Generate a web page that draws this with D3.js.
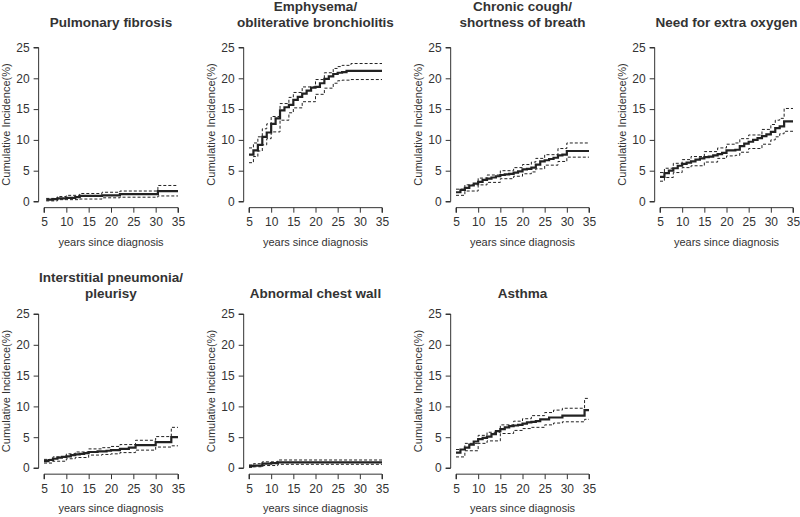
<!DOCTYPE html>
<html>
<head>
<meta charset="utf-8">
<script src="https://cdn.jsdelivr.net/npm/d3@7"></script>
<style>
  body { margin: 0; background: #fff; }
  svg text { font-family: "Liberation Sans", Arial, sans-serif; fill: #333; }
</style>
</head>
<body>
<div id="chart"></div>
<script>
// x ticks / y ticks shared by every panel
const xTicks = [5, 10, 15, 20, 25, 30, 35];
const yTicks = [0, 5, 10, 15, 20, 25];

// Pulmonary fibrosis
const pfT = [5.5, 7, 8, 10, 12, 13, 18, 22, 30.5, 35];
const pfEst = [0.3, 0.4, 0.5, 0.6, 0.7, 0.9, 1.0, 1.2, 1.7, 1.7];
const pfCiT = [5.5, 8, 10, 13, 18, 22, 30.5, 35];
const pfLo = [0.1, 0.3, 0.3, 0.4, 0.6, 0.7, 0.9, 0.9];
const pfHi = [0.5, 0.8, 1.0, 1.3, 1.5, 1.7, 2.6, 2.6];

// Emphysema / obliterative bronchiolitis
const emT = [5, 6, 7, 8, 9, 10, 11, 12, 13, 14, 15, 16, 17, 18, 19, 20, 21, 22, 23, 24, 25, 26, 27, 35];
const emEst = [7.6, 8.3, 9.2, 10.5, 11.2, 12.6, 13.5, 14.8, 15.3, 15.7, 16.5, 17.0, 17.5, 18.0, 18.5, 18.6, 19.2, 19.9, 20.3, 20.7, 20.9, 21.0, 21.2, 21.2];
const emCiT = [5, 6, 7, 8, 9, 10, 12, 14, 15, 17, 20, 22, 24, 25, 26, 28, 35];
const emLo = [6.3, 7.3, 8.2, 9.2, 10.2, 11.3, 13.2, 14.4, 15.2, 16.2, 17.4, 18.4, 19.2, 19.6, 19.7, 19.8, 19.8];
const emHi = [8.7, 9.5, 10.5, 11.8, 12.6, 13.8, 15.9, 16.9, 17.7, 18.6, 19.8, 20.9, 21.6, 21.9, 22.1, 22.4, 22.4];

// Chronic cough / shortness of breath
const ccT = [5, 6, 7, 8, 9, 10, 11, 12, 13, 14, 15, 16, 17, 18, 19, 20, 21, 22, 23, 24, 25, 26, 27, 28, 29, 30, 35];
const ccEst = [1.5, 1.9, 2.2, 2.6, 2.9, 3.2, 3.5, 3.7, 3.9, 4.1, 4.3, 4.4, 4.5, 4.7, 4.9, 5.2, 5.3, 5.5, 6.0, 6.5, 6.7, 6.9, 7.1, 7.5, 7.6, 8.2, 8.2];
const ccCiT = [5, 7, 10, 12, 15, 18, 20, 22, 23, 25, 28, 30, 35];
const ccLo = [1.0, 1.7, 2.7, 3.1, 3.7, 4.1, 4.5, 4.8, 5.3, 5.9, 6.5, 7.2, 7.2];
const ccHi = [2.0, 2.7, 3.8, 4.3, 5.0, 5.5, 6.0, 6.4, 7.0, 7.6, 8.6, 9.5, 9.5];

// Need for extra oxygen
const oxT = [5, 6, 7, 8, 9, 10, 11, 12, 13, 14, 15, 16, 17, 18, 19, 20, 22, 23, 24, 25, 26, 27, 28, 29, 30, 31, 32, 33, 35];
const oxEst = [4.0, 4.6, 5.0, 5.4, 5.8, 6.1, 6.3, 6.5, 6.8, 7.0, 7.2, 7.3, 7.5, 7.7, 7.9, 8.3, 8.4, 9.0, 9.4, 9.7, 10.0, 10.3, 10.6, 10.9, 11.3, 11.9, 12.2, 13.0, 13.0];
const oxCiT = [5, 6, 8, 10, 12, 15, 18, 20, 22, 23, 25, 28, 30, 31, 32, 33, 35];
const oxLo = [3.3, 3.9, 4.7, 5.5, 5.8, 6.4, 7.0, 7.4, 7.5, 8.0, 8.6, 9.3, 10.0, 10.5, 11.0, 11.4, 11.4];
const oxHi = [4.7, 5.4, 6.2, 6.8, 7.3, 8.1, 8.7, 9.3, 9.5, 10.2, 10.8, 11.7, 12.5, 13.2, 13.5, 15.1, 15.1];

// Interstitial pneumonia / pleurisy
const ipT = [5, 6, 7, 8, 9, 10, 11, 12, 13, 14, 15, 17, 19, 20, 22, 24, 25.5, 30, 33.5, 35];
const ipEst = [1.1, 1.3, 1.5, 1.7, 1.8, 1.9, 2.1, 2.2, 2.3, 2.4, 2.6, 2.7, 2.8, 2.9, 3.1, 3.3, 3.7, 4.2, 5.0, 5.0];
const ipCiT = [5, 7, 10, 12, 15, 18, 20, 22, 25.5, 30, 33.5, 35];
const ipLo = [0.8, 1.1, 1.5, 1.7, 2.1, 2.2, 2.3, 2.5, 2.9, 3.4, 3.6, 3.6];
const ipHi = [1.4, 1.8, 2.3, 2.6, 3.1, 3.3, 3.5, 3.8, 4.5, 5.1, 6.6, 6.6];

// Abnormal chest wall
const cwT = [5, 6, 8, 10, 11.5, 35];
const cwEst = [0.3, 0.4, 0.7, 0.8, 0.9, 0.9];
const cwCiT = [5, 6, 8, 11.5, 35];
const cwLo = [0.1, 0.2, 0.4, 0.6, 0.6];
const cwHi = [0.5, 0.7, 1.0, 1.3, 1.3];

// Asthma
const asT = [5, 6, 7, 8, 9, 10, 11, 12, 13, 14, 15, 16, 17, 18, 19, 20, 21, 22, 23, 24, 26, 29, 34, 35];
const asEst = [2.5, 3.0, 3.3, 3.8, 4.3, 4.7, 4.9, 5.1, 5.5, 6.0, 6.3, 6.6, 6.8, 6.9, 7.0, 7.2, 7.4, 7.5, 7.6, 7.9, 8.2, 8.5, 9.4, 9.4];
const asCiT = [5, 7, 10, 12, 15, 18, 20, 22, 25, 27, 29, 34, 35];
const asLo = [1.8, 2.8, 4.0, 4.4, 5.6, 6.1, 6.4, 6.6, 7.0, 7.3, 7.5, 7.9, 7.9];
const asHi = [3.0, 4.0, 5.3, 5.8, 7.0, 7.6, 8.0, 8.5, 9.0, 9.4, 9.7, 11.3, 11.3];

const panels = [
  { title: ["Pulmonary fibrosis"], t: pfT, est: pfEst, ciT: pfCiT, lo: pfLo, hi: pfHi },
  { title: ["Emphysema/", "obliterative bronchiolitis"], t: emT, est: emEst, ciT: emCiT, lo: emLo, hi: emHi },
  { title: ["Chronic cough/", "shortness of breath"], t: ccT, est: ccEst, ciT: ccCiT, lo: ccLo, hi: ccHi },
  { title: ["Need for extra oxygen"], t: oxT, est: oxEst, ciT: oxCiT, lo: oxLo, hi: oxHi },
  { title: ["Interstitial pneumonia/", "pleurisy"], t: ipT, est: ipEst, ciT: ipCiT, lo: ipLo, hi: ipHi },
  { title: ["Abnormal chest wall"], t: cwT, est: cwEst, ciT: cwCiT, lo: cwLo, hi: cwHi },
  { title: ["Asthma"], t: asT, est: asEst, ciT: asCiT, lo: asLo, hi: asHi },
];

const width = 800;
const height = 517;

// pixel position of x=5 / x=35 per column, y=0 / y=25 per row
const colX5 = [44, 249, 456, 660];
const colX35 = [178, 382, 589, 793];
const rowY0 = [201.5, 468];
const rowY25 = [47.5, 314];

const svg = d3
  .select("#chart")
  .append("svg")
  .attr("width", width)
  .attr("height", height);

const line = d3.line().curve(d3.curveStepAfter);

panels.forEach((p, i) => {
  const col = i % 4;
  const row = Math.floor(i / 4);
  const x = d3.scaleLinear().domain([5, 35]).range([colX5[col], colX35[col]]);
  const y = d3.scaleLinear().domain([0, 25]).range([rowY0[row], rowY25[row]]);
  // R-style 4% padding: axes sit outside the data region
  const axisX = x(3.8);
  const axisY = y(-1);

  const g = svg.append("g");

  // y axis
  g.append("g")
    .attr("transform", `translate(${axisX},0)`)
    .call(d3.axisLeft(y).tickValues(yTicks).tickSize(5).tickPadding(4))
    .call((a) => a.select(".domain").attr("d", `M-5,${y(0)}H0V${y(25)}H-5`).attr("stroke", "#333"))
    .call((a) => a.selectAll(".tick line").attr("stroke", "#333"))
    .call((a) => a.selectAll(".tick text").attr("font-size", 12).style("font-family", "Liberation Sans, Arial, sans-serif").attr("fill", "#333"));

  // x axis
  g.append("g")
    .attr("transform", `translate(0,${axisY})`)
    .call(d3.axisBottom(x).tickValues(xTicks).tickSize(5).tickPadding(5))
    .call((a) => a.select(".domain").attr("d", `M${x(5)},5V0H${x(35)}V5`).attr("stroke", "#333"))
    .call((a) => a.selectAll(".tick line").attr("stroke", "#333"))
    .call((a) => a.selectAll(".tick text").attr("font-size", 12).style("font-family", "Liberation Sans, Arial, sans-serif").attr("fill", "#333"));

  // axis titles
  g.append("text")
    .attr("x", (axisX + x(36.2)) / 2)
    .attr("y", axisY + 38)
    .attr("text-anchor", "middle")
    .attr("font-size", 11)
    .text("years since diagnosis");

  g.append("text")
    .attr("transform", `translate(${axisX - 29},${(y(-1) + y(26)) / 2}) rotate(-90)`)
    .attr("text-anchor", "middle")
    .attr("font-size", 11)
    .text("Cumulative Incidence(%)");

  // panel title
  const cx = (axisX + x(36.2)) / 2;
  const titleBase = row === 0 ? 27 : 298;
  p.title.forEach((ln, k) => {
    g.append("text")
      .attr("x", cx)
      .attr("y", titleBase - (p.title.length - 1 - k) * 16)
      .attr("text-anchor", "middle")
      .attr("font-size", 13.5)
      .attr("font-weight", "bold")
      .text(ln);
  });

  // confidence bands (dashed)
  [p.lo, p.hi].forEach((band) => {
    g.append("path")
      .attr("d", line(p.ciT.map((t, k) => [x(t), y(band[k])])))
      .attr("fill", "none")
      .attr("stroke", "#222")
      .attr("stroke-width", 1)
      .attr("stroke-dasharray", "3,2");
  });

  // estimate
  g.append("path")
    .attr("d", line(p.t.map((t, k) => [x(t), y(p.est[k])])))
    .attr("fill", "none")
    .attr("stroke", "#222")
    .attr("stroke-width", 2.2);
});
</script>
</body>
</html>
